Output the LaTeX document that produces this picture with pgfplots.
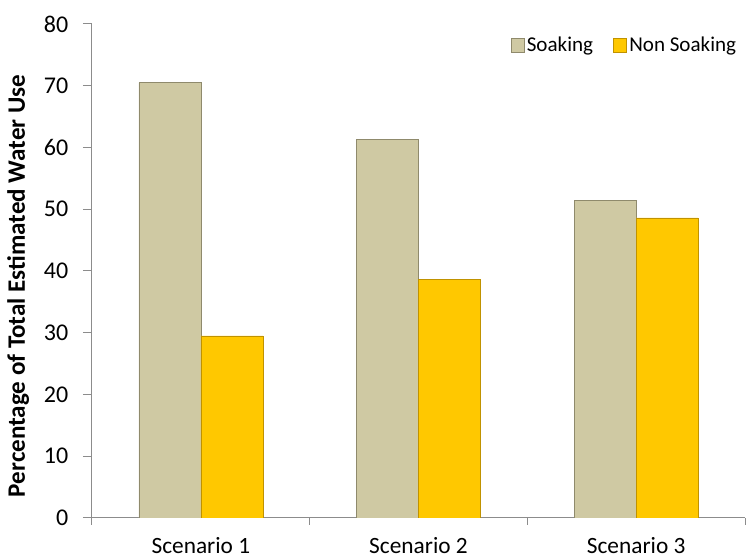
\documentclass[border=0pt]{standalone}
\usepackage{pgfplots}
\pgfplotsset{compat=1.18}
\usepackage{fontspec}
\setmainfont{Carlito}
\definecolor{soak}{HTML}{CFC9A3}
\definecolor{soakedge}{HTML}{8F8A6C}
\definecolor{non}{HTML}{FFC800}
\definecolor{nonedge}{HTML}{C09200}
\definecolor{axisgray}{HTML}{8C8C8C}
\begin{document}
\begin{tikzpicture}[x=1pt,y=1pt]
\path[use as bounding box] (-69,-30.75) rectangle (492,388.5);
\begin{axis}[
  at={(0,0)}, anchor=south west,
  scale only axis, width=489.75pt, height=370.5pt,
  axis lines*=left,
  axis line style={axisgray, line width=0.75pt},
  xmin=-0.5, xmax=2.5, ymin=0, ymax=80,
  ytick={0,10,...,80},
  xtick={0,1,2},
  xticklabels={Scenario 1, Scenario 2, Scenario 3},
  minor xtick={-0.5,0.5,1.5,2.5},
  tick align=outside,
  major tick length=6.75pt,
  minor tick length=5pt,
  major x tick style={draw=none},
  minor x tick style={axisgray, line width=0.75pt},
  y tick style={axisgray, line width=0.75pt},
  /pgf/number format/assume math mode=true,
  yticklabel style={font=\fontsize{18}{20}\selectfont, xshift=-7.5pt},
  xticklabel style={font=\fontsize{17.5}{20}\selectfont, yshift=-4pt},
  ylabel={Percentage of Total Estimated Water Use},
  ylabel style={font=\bfseries\fontsize{18.8}{20}\selectfont,
     at={(axis description cs:-0.113,0.47)}, anchor=center},
  legend style={at={(0.997,0.957)}, anchor=east, draw=none, fill=none,
     legend columns=2, font=\fontsize{15.8}{18}\selectfont,
     /tikz/every even column/.append style={column sep=13pt}},
  legend cell align=left,
]
\addplot[ybar, bar width=0.285, bar shift=-0.1425, fill=soak, draw=soakedge,
  legend image code/.code={\draw[fill=soak, draw=soakedge] (0pt,-4.9pt) rectangle (9.75pt,4.9pt);}]
  coordinates {(0,70.5) (1,61.3) (2,51.4)};
\addplot[ybar, bar width=0.285, bar shift=0.1425, fill=non, draw=nonedge,
  legend image code/.code={\draw[fill=non, draw=nonedge] (0pt,-4.9pt) rectangle (9.75pt,4.9pt);}]
  coordinates {(0,29.5) (1,38.7) (2,48.6)};
\legend{Soaking, Non Soaking}
\end{axis}
\end{tikzpicture}
\end{document}
